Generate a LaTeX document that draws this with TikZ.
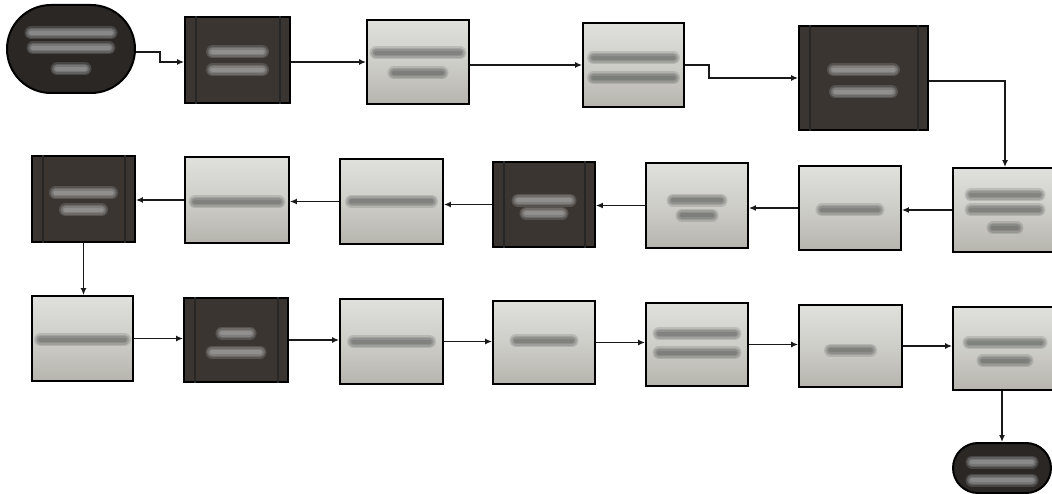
\documentclass[tikz,border=0pt]{standalone}
\usetikzlibrary{shapes.misc,arrows.meta,calc}
\definecolor{darkfill}{RGB}{58,53,49}
\definecolor{termfill}{RGB}{42,39,37}
\definecolor{lighttop}{RGB}{224,224,220}
\definecolor{lightmid}{RGB}{206,206,201}
\definecolor{lightbot}{RGB}{182,180,173}
\definecolor{blurdark}{RGB}{60,62,60}
\definecolor{blurlight}{RGB}{225,228,230}
\tikzset{
  box/.style={draw=black, line width=1.8pt, inner sep=0pt},
  lightbox/.style={box, top color=lighttop, bottom color=lightbot, middle color=lightmid},
  darkbox/.style={box, fill=darkfill},
  term/.style={rounded rectangle, draw=black, line width=2pt, fill=termfill, inner sep=0pt},
  conn/.style={line width=1.8pt, draw=black!90, -{Latex[length=7pt,width=6pt]}},
  innerline/.style={line width=1.4pt, draw=black!85},
  bd/.style={draw=blurdark, line cap=round},
  bl/.style={draw=blurlight, line cap=round},
}
\newcommand{\tb}[4]{%
  \foreach \w in {13,10,7,4}{%
  \draw[#4, line width=\w pt, opacity=0.17] ($(#1.center)+(-#3,#2)$) -- ($(#1.center)+(#3,#2)$);}}
\newcommand{\dlines}[1]{%
  \draw[innerline] ([xshift=12pt]#1.north west) -- ([xshift=12pt]#1.south west);
  \draw[innerline] ([xshift=-11pt]#1.north east) -- ([xshift=-11pt]#1.south east);}
\begin{document}
\begin{tikzpicture}[x=1pt,y=-1pt]
\useasboundingbox[fill=white] (0,0) rectangle (1052,494);
% row 1
\node[term, minimum width=128pt, minimum height=88pt] (s) at (71,49) {};
\node[darkbox, minimum width=105pt, minimum height=86pt] (b2) at (237.5,60) {};
\node[lightbox, minimum width=102pt, minimum height=84pt] (b3) at (418,62) {};
\node[lightbox, minimum width=101pt, minimum height=84pt] (b4) at (633.5,65) {};
\node[darkbox, minimum width=129pt, minimum height=104pt] (b5) at (863.5,78) {};
% row 2
\node[lightbox, minimum width=104pt, minimum height=84pt] (r2a) at (1005,210) {};
\node[lightbox, minimum width=102pt, minimum height=84pt] (r2b) at (850,208) {};
\node[lightbox, minimum width=102pt, minimum height=85pt] (r2c) at (697,205.5) {};
\node[darkbox, minimum width=102pt, minimum height=85pt] (r2d) at (544,204.5) {};
\node[lightbox, minimum width=103pt, minimum height=85pt] (r2e) at (391.5,201.5) {};
\node[lightbox, minimum width=104pt, minimum height=86pt] (r2f) at (237,200) {};
\node[darkbox, minimum width=103pt, minimum height=86pt] (r2g) at (83.5,199) {};
% row 3
\node[lightbox, minimum width=101pt, minimum height=85pt] (r3a) at (82.5,338.5) {};
\node[darkbox, minimum width=104pt, minimum height=84pt] (r3b) at (236,340) {};
\node[lightbox, minimum width=103pt, minimum height=85pt] (r3c) at (391.5,341.5) {};
\node[lightbox, minimum width=102pt, minimum height=83pt] (r3d) at (544,342.5) {};
\node[lightbox, minimum width=102pt, minimum height=83pt] (r3e) at (697,344.5) {};
\node[lightbox, minimum width=103pt, minimum height=82pt] (r3f) at (850.5,346) {};
\node[lightbox, minimum width=104pt, minimum height=83pt] (r3g) at (1005,348.5) {};
\node[term, minimum width=98pt, minimum height=50pt] (e) at (1002,468) {};
% inner lines of the dark boxes
\dlines{b2}\dlines{b5}\dlines{r2d}\dlines{r2g}\dlines{r3b}
% blurred lettering
\tb{s}{-16}{40}{bl}\tb{s}{-1}{38}{bl}\tb{s}{20}{14}{bl}
\tb{b2}{-8}{25}{bl}\tb{b2}{10}{25}{bl}
\tb{b3}{-9}{42}{bd}\tb{b3}{11}{24}{bd}
\tb{b4}{-7}{40}{bd}\tb{b4}{13}{40}{bd}
\tb{b5}{-8}{30}{bl}\tb{b5}{14}{28}{bl}
\tb{r2a}{-15}{34}{bd}\tb{r2a}{0}{34}{bd}\tb{r2a}{18}{12}{bd}
\tb{r2b}{2}{28}{bd}
\tb{r2c}{-5}{24}{bd}\tb{r2c}{10}{15}{bd}
\tb{r2d}{-4}{26}{bl}\tb{r2d}{9}{18}{bl}
\tb{r2e}{0}{40}{bd}
\tb{r2f}{2}{42}{bd}
\tb{r2g}{-6}{28}{bl}\tb{r2g}{11}{18}{bl}
\tb{r3a}{1}{42}{bd}
\tb{r3b}{-7}{14}{bl}\tb{r3b}{12}{24}{bl}
\tb{r3c}{0}{38}{bd}
\tb{r3d}{-2}{28}{bd}
\tb{r3e}{-11}{38}{bd}\tb{r3e}{8}{38}{bd}
\tb{r3f}{4}{20}{bd}
\tb{r3g}{-6}{36}{bd}\tb{r3g}{12}{22}{bd}
\tb{e}{-6}{30}{bl}\tb{e}{12}{30}{bl}
% connectors row 1
\draw[conn] ([yshift=-3pt]s.east) -- ++(24,0) |- ([yshift=-2pt]b2.west);
\draw[conn] (b2.east |- b3.west) -- (b3.west);
\draw[conn] (b3.east |- b4.west) -- (b4.west);
\draw[conn] (b4.east) -- ++(24,0) |- (b5.west);
\draw[conn] ([yshift=-3pt]b5.east) -| (r2a.north);
% row 2
\draw[conn] (r2a.west) -- (r2a.west -| r2b.east);
\draw[conn] (r2b.west) -- (r2b.west -| r2c.east);
\draw[conn] (r2c.west) -- (r2c.west -| r2d.east);
\draw[conn] (r2d.west) -- (r2d.west -| r2e.east);
\draw[conn] (r2e.west) -- (r2e.west -| r2f.east);
\draw[conn] (r2f.west) -- (r2f.west -| r2g.east);
\draw[conn] (r2g.south) -- (r2g.south |- r3a.north);
% row 3
\draw[conn] (r3a.east) -- (r3a.east -| r3b.west);
\draw[conn] (r3b.east) -- (r3b.east -| r3c.west);
\draw[conn] (r3c.east) -- (r3c.east -| r3d.west);
\draw[conn] (r3d.east) -- (r3d.east -| r3e.west);
\draw[conn] (r3e.east) -- (r3e.east -| r3f.west);
\draw[conn] (r3f.east) -- (r3f.east -| r3g.west);
\draw[conn] (r3g.south -| e.north) -- (e.north);
\end{tikzpicture}
\end{document}
